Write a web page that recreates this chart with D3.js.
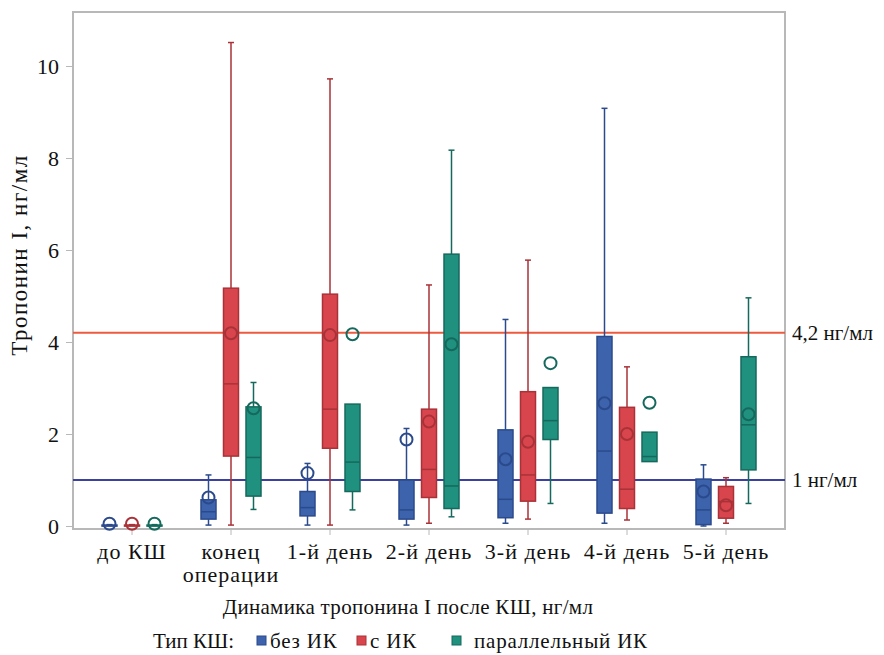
<!DOCTYPE html>
<html><head><meta charset="utf-8">
<script src="https://cdn.jsdelivr.net/npm/d3@7"></script>
<style>body{margin:0;background:#fff}svg{display:block}svg text{font-family:"Liberation Serif","Times New Roman",Times,"DejaVu Serif",serif !important;fill:#111}</style>
</head><body><svg id="c" width="884" height="655"></svg>
<script>
const categories = ["до КШ", "конец\nоперации", "1-й день", "2-й день", "3-й день", "4-й день", "5-й день"];
const seriesNames = ["без ИК", "с ИК", "параллельный ИК"];
const yTicks = [0, 2, 4, 6, 8, 10];
const refValues = [4.2, 1];
const refLabels = ["4,2 нг/мл", "1 нг/мл"];

const blueLow  = [0, 0.02, 0.02, 0.02, 0.06, 0.06, 0.00];
const blueQ1   = [0, 0.15, 0.22, 0.15, 0.18, 0.28, 0.03];
const blueMed  = [0.01, 0.31, 0.40, 0.35, 0.58, 1.63, 0.35];
const blueQ3   = [0.02, 0.57, 0.75, 1.00, 2.09, 4.12, 1.02];
const blueHigh = [0.03, 1.11, 1.36, 2.12, 4.49, 9.08, 1.33];
const blueMean = [0.05, 0.62, 1.15, 1.88, 1.45, 2.67, 0.75];

const redLow  = [0, 0.02, 0.02, 0.06, 0.15, 0.13, 0.06];
const redQ1   = [0, 1.52, 1.69, 0.62, 0.54, 0.38, 0.17];
const redMed  = [0.01, 3.09, 2.54, 1.23, 1.11, 0.80, 0.53];
const redQ3   = [0.02, 5.17, 5.04, 2.54, 2.92, 2.58, 0.86];
const redHigh = [0.03, 10.51, 9.72, 5.24, 5.78, 3.46, 1.05];
const redMean = [0.05, 4.19, 4.15, 2.27, 1.83, 2.00, 0.45];

const greenLow  = [0, 0.36, 0.35, 0.20, 0.49, 1.40, 0.49];
const greenQ1   = [0, 0.65, 0.75, 0.38, 1.88, 1.40, 1.22];
const greenMed  = [0.01, 1.49, 1.39, 0.87, 2.29, 1.51, 2.20];
const greenQ3   = [0.02, 2.59, 2.65, 5.91, 3.01, 2.04, 3.68];
const greenHigh = [0.03, 3.12, 2.65, 8.17, 3.01, 2.04, 4.96];
const greenMean = [0.05, 2.56, 4.17, 3.95, 3.54, 2.68, 2.43];

const fills   = ["#3d63ad", "#d9454c", "#20907f"];
const strokes = ["#2b4a8c", "#a93238", "#15695c"];
const refColors = ["#ee5a3e", "#3c40a0"];

const seriesData = [
  {low: blueLow, q1: blueQ1, med: blueMed, q3: blueQ3, high: blueHigh, mean: blueMean},
  {low: redLow, q1: redQ1, med: redMed, q3: redQ3, high: redHigh, mean: redMean},
  {low: greenLow, q1: greenQ1, med: greenMed, q3: greenQ3, high: greenHigh, mean: greenMean}
];

const FONT = '"Liberation Serif","Times New Roman",Times,"DejaVu Serif",serif';
const svg = d3.select("#c");
const L = 73, R = 785, T = 12, B = 529;
const y = d3.scaleLinear().domain([0, 10]).range([526, 66]);
const x = d3.scaleBand().domain(categories).range([82.5, 775.5]);
const xs = d3.scalePoint().domain(seriesNames).range([-22.5, 22.5]);
const bw = 15;

// frame
svg.append("rect").attr("x", L).attr("y", T).attr("width", R - L).attr("height", B - T)
  .attr("fill", "none").attr("stroke", "#b8b8b8").attr("stroke-width", 2);

// y axis
const yAx = svg.append("g").attr("transform", `translate(${L},0)`)
  .call(d3.axisLeft(y).tickValues(yTicks).tickSize(7).tickPadding(7).tickFormat(d3.format("d")));
yAx.attr("font-family", FONT);
yAx.select(".domain").remove();
yAx.selectAll("line").attr("stroke", "#b8b8b8");
yAx.selectAll("text").style("font-size", "22px").attr("fill", "#111");

// x axis
const xAx = svg.append("g").attr("transform", `translate(0,${B})`)
  .call(d3.axisBottom(x).tickSize(6).tickFormat(""));
xAx.attr("font-family", FONT);
xAx.select(".domain").remove();
xAx.selectAll("line").attr("stroke", "#b8b8b8");
xAx.selectAll(".tick").each(function(d) {
  const lines = d.split("\n");
  const t = d3.select(this).append("text").attr("text-anchor", "middle")
    .style("font-size", "22px").style("letter-spacing", "1px");
  lines.forEach((s, i) => t.append("tspan").attr("x", 0).attr("y", 30 + i * 23).text(s));
});

// reference lines
refValues.forEach((v, i) => {
  svg.append("line").attr("x1", L).attr("x2", R).attr("y1", y(v)).attr("y2", y(v))
    .attr("stroke", refColors[i]).attr("stroke-width", 2);
  svg.append("text").attr("x", 792).attr("y", y(v)).attr("dy", "0.35em")
    .style("font-size", "21px").text(refLabels[i]);
});

// boxes
seriesData.forEach((s, si) => {
  const g = svg.append("g");
  categories.forEach((c, ci) => {
    const cx = x(c) + x.bandwidth() / 2 + xs(seriesNames[si]);
    const fc = fills[si], sc = strokes[si];
    if (s.high[ci] > s.q3[ci]) {
      g.append("line").attr("x1", cx).attr("x2", cx).attr("y1", y(s.q3[ci])).attr("y2", y(s.high[ci]))
        .attr("stroke", sc).attr("stroke-width", 1.5);
      g.append("line").attr("x1", cx - 3).attr("x2", cx + 3).attr("y1", y(s.high[ci])).attr("y2", y(s.high[ci]))
        .attr("stroke", sc).attr("stroke-width", 1.5);
    }
    if (s.low[ci] < s.q1[ci]) {
      g.append("line").attr("x1", cx).attr("x2", cx).attr("y1", y(s.q1[ci])).attr("y2", y(s.low[ci]))
        .attr("stroke", sc).attr("stroke-width", 1.5);
      g.append("line").attr("x1", cx - 3).attr("x2", cx + 3).attr("y1", y(s.low[ci])).attr("y2", y(s.low[ci]))
        .attr("stroke", sc).attr("stroke-width", 1.5);
    }
    g.append("rect").attr("x", cx - bw / 2).attr("width", bw)
      .attr("y", y(s.q3[ci])).attr("height", Math.max(1, y(s.q1[ci]) - y(s.q3[ci])))
      .attr("fill", fc).attr("stroke", sc).attr("stroke-width", 1.5);
    g.append("line").attr("x1", cx - bw / 2).attr("x2", cx + bw / 2).attr("y1", y(s.med[ci])).attr("y2", y(s.med[ci]))
      .attr("stroke", sc).attr("stroke-width", 1.5);
    g.append("circle").attr("cx", cx).attr("cy", y(s.mean[ci])).attr("r", 6)
      .attr("fill", "none").attr("stroke", sc).attr("stroke-width", 2);
  });
});

// y label
svg.append("text").attr("transform", "translate(27,255) rotate(-90)").attr("text-anchor", "middle")
  .style("font-size", "23px").style("letter-spacing", "1.5px").text("Тропонин I, нг/мл");

// x title
svg.append("text").attr("x", 408).attr("y", 607).attr("dy", "0.35em").attr("text-anchor", "middle")
  .style("font-size", "21px").style("letter-spacing", "0.3px").text("Динамика тропонина I после КШ, нг/мл");

// legend
const leg = svg.append("g").attr("transform", "translate(0,641)");
leg.append("text").attr("x", 153).attr("y", 0).attr("dy", "0.35em").style("font-size", "21px").text("Тип КШ:");
const legX = [257, 357, 452];
const legTextX = [270, 370, 474];
seriesNames.forEach((n, i) => {
  leg.append("rect").attr("x", legX[i]).attr("y", -5).attr("width", 9).attr("height", 9)
    .attr("fill", fills[i]).attr("stroke", strokes[i]).attr("stroke-width", 1);
  leg.append("text").attr("x", legTextX[i]).attr("y", 0).attr("dy", "0.35em")
    .style("font-size", "21px").style("letter-spacing", "0.8px").text(n);
});
</script></body></html>
